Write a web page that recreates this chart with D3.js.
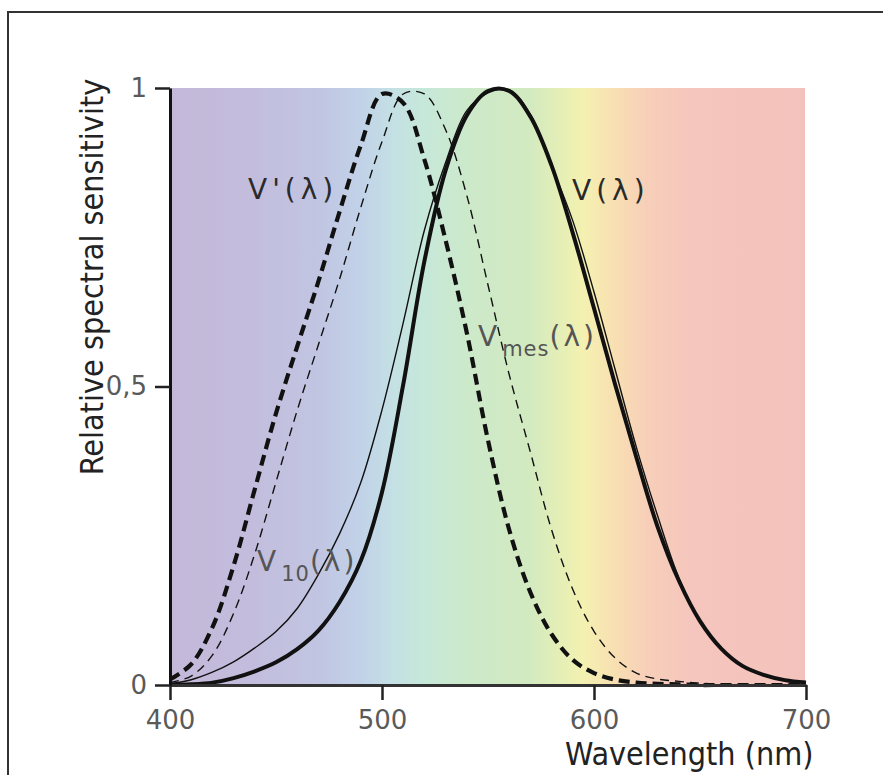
<!DOCTYPE html>
<html>
<head>
<meta charset="utf-8">
<script src="https://cdn.jsdelivr.net/npm/d3@7"></script>
<style>
  body { margin: 0; background: #fff; }
  svg { display: block; }
</style>
</head>
<body>
<svg id="chart" width="883" height="775"></svg>
<script>
// Wavelength samples (nm) shared by all four curves.
var wavelengths = [400, 410, 420, 430, 440, 450, 460, 470, 480, 490,
                   500, 510, 520, 530, 540, 550, 560, 570, 580, 590,
                   600, 610, 620, 630, 640, 650, 660, 670, 680, 690, 700];

// V(lambda), photopic, thick solid.
var vPhotopic = [0.0004, 0.0012, 0.004, 0.0116, 0.023, 0.038, 0.060, 0.091, 0.139, 0.208,
                 0.323, 0.503, 0.710, 0.862, 0.954, 0.995, 0.995, 0.952, 0.870, 0.757,
                 0.631, 0.503, 0.381, 0.265, 0.175, 0.107, 0.061, 0.032, 0.017, 0.0082, 0.0041];

// V'(lambda), scotopic, thick dashed.
var vScotopic = [0.0093, 0.0348, 0.0966, 0.1998, 0.3281, 0.455, 0.567, 0.676, 0.793, 0.904,
                 0.990, 0.975, 0.880, 0.745, 0.590, 0.410, 0.260, 0.155, 0.085, 0.042,
                 0.020, 0.009, 0.004, 0.002, 0.001, 0, 0, 0, 0, 0, 0];

// V10(lambda), 10 degree photopic, thin solid.
var v10 = [0.0020, 0.0088, 0.0214, 0.0387, 0.0621, 0.0895, 0.1282, 0.1852, 0.2536, 0.3391,
           0.4608, 0.6067, 0.7618, 0.8752, 0.9620, 0.9918, 0.9973, 0.9555, 0.8689, 0.7774,
           0.6583, 0.5280, 0.3981, 0.2835, 0.1798, 0.1076, 0.0603, 0.0318, 0.0159, 0.0077, 0.0036];

// Vmes(lambda), mesopic, thin dashed.
var vMesopic = [0.004, 0.015, 0.050, 0.120, 0.220, 0.340, 0.460, 0.570, 0.680, 0.800,
                0.910, 0.990, 0.990, 0.930, 0.820, 0.670, 0.520, 0.390, 0.260, 0.160,
                0.090, 0.045, 0.020, 0.010, 0.006, 0.003, 0.001, 0, 0, 0, 0];

var xTicks = [400, 500, 600, 700];
var yTicks = [0, 0.5, 1];
var yTickLabels = ["0", "0,5", "1"];

// Spectrum behind the plot.
var spectrumNm = [400, 440, 470, 490, 505, 520, 540, 570, 585, 595, 610, 625, 645, 700];
var spectrumColors = ["#c4b8d9", "#c3bddd", "#c1c5e2", "#c1d2e8", "#c4e0e4", "#c6e8d9", "#cce9ca",
                      "#d3eac0", "#e6efb5", "#f4f1b1", "#f8dfb2", "#f7cfb9", "#f5c6bd", "#f4c2bc"];

var svg = d3.select("#chart");

var x = d3.scaleLinear().domain([400, 700]).range([170, 806]);
var y = d3.scaleLinear().domain([0, 1]).range([685, 88]);

// Frame round the figure (only top and left edges fall inside the window).
svg.append("rect")
    .attr("x", 8).attr("y", 12)
    .attr("width", 900).attr("height", 800)
    .attr("fill", "none")
    .attr("stroke", "#333")
    .attr("stroke-width", 2);

var defs = svg.append("defs");
var grad = defs.append("linearGradient")
    .attr("id", "spectrum")
    .attr("gradientUnits", "userSpaceOnUse")
    .attr("x1", x(400)).attr("x2", x(700))
    .attr("y1", 0).attr("y2", 0);
grad.selectAll("stop")
    .data(spectrumNm)
    .enter().append("stop")
    .attr("offset", function(d) { return (d - 400) / 300; })
    .attr("stop-color", function(d, i) { return spectrumColors[i]; });

svg.append("rect")
    .attr("x", x(400)).attr("y", y(1))
    .attr("width", x(700) - x(400) - 1)
    .attr("height", y(0) - y(1))
    .attr("fill", "url(#spectrum)");

// Curves
function series(values) {
    return wavelengths.map(function(w, i) { return [w, values[i]]; });
}

var line = d3.line()
    .x(function(d) { return x(d[0]); })
    .y(function(d) { return y(Math.max(0, d[1])); })
    .curve(d3.curveCatmullRom.alpha(0.5));

var curves = [
    { values: v10, width: 1.4, dash: null },
    { values: vMesopic, width: 1.4, dash: "9,6" },
    { values: vPhotopic, width: 4, dash: null },
    { values: vScotopic, width: 4.2, dash: "11,6" }
];

svg.selectAll("path.curve")
    .data(curves)
    .enter().append("path")
    .attr("class", "curve")
    .attr("d", function(d) { return line(series(d.values)); })
    .attr("fill", "none")
    .attr("stroke", "#111")
    .attr("stroke-width", function(d) { return d.width; })
    .attr("stroke-dasharray", function(d) { return d.dash; })
    .attr("stroke-linejoin", "round");

// Axes
var xAxis = svg.append("g")
    .attr("transform", "translate(0," + y(0) + ")")
    .call(d3.axisBottom(x).tickValues(xTicks).tickSize(15).tickSizeOuter(0).tickPadding(11));

var yAxis = svg.append("g")
    .attr("transform", "translate(" + x(400) + ",0)")
    .call(d3.axisLeft(y).tickValues(yTicks).tickSize(15).tickSizeOuter(0).tickPadding(8)
        .tickFormat(function(d, i) { return yTickLabels[i]; }));

xAxis.select(".domain").attr("stroke", "#333").attr("stroke-width", 3);
yAxis.select(".domain").attr("stroke", "#111").attr("stroke-width", 3);
svg.selectAll(".tick line").attr("stroke", "#222").attr("stroke-width", 2.5);
svg.selectAll(".tick text")
    .attr("fill", "#5a5a5a")
    .style("font-family", "'DejaVu Sans', Verdana, sans-serif")
    .style("font-size", "26px");

// Axis titles
var condensed = "'DejaVu Sans Condensed', 'Liberation Sans Narrow', 'DejaVu Sans', sans-serif";

svg.append("text")
    .attr("x", 565).attr("y", 765)
    .style("font-family", condensed)
    .style("font-stretch", "condensed")
    .style("font-size", "32px")
    .attr("fill", "#222")
    .text("Wavelength (nm)");

svg.append("text")
    .attr("transform", "translate(103,277) rotate(-90)")
    .attr("text-anchor", "middle")
    .style("font-family", condensed)
    .style("font-stretch", "condensed")
    .style("font-size", "32px")
    .attr("fill", "#222")
    .text("Relative spectral sensitivity");

// Curve labels
var labelFont = "'DejaVu Sans', Verdana, sans-serif";

function curveLabel(px, py, sub, color) {
    var t = svg.append("text")
        .attr("x", px).attr("y", py)
        .style("font-family", labelFont)
        .style("font-size", "28px")
        .style("letter-spacing", "5px")
        .attr("fill", color);
    t.append("tspan").text(sub.main);
    if (sub.sub) {
        t.append("tspan")
            .attr("dy", 10)
            .style("font-size", "21px")
            .style("letter-spacing", "1px")
            .text(sub.sub);
        t.append("tspan").attr("dy", -10).style("letter-spacing", "3px").text("(λ)");
    } else {
        t.append("tspan").text("(λ)");
    }
}

curveLabel(248, 199, { main: "V'" }, "#2a2a2a");
curveLabel(572, 200, { main: "V" }, "#2a2a2a");
curveLabel(478, 346, { main: "V", sub: "mes" }, "#555");
curveLabel(257, 571, { main: "V", sub: "10" }, "#555");
</script>
</body>
</html>
